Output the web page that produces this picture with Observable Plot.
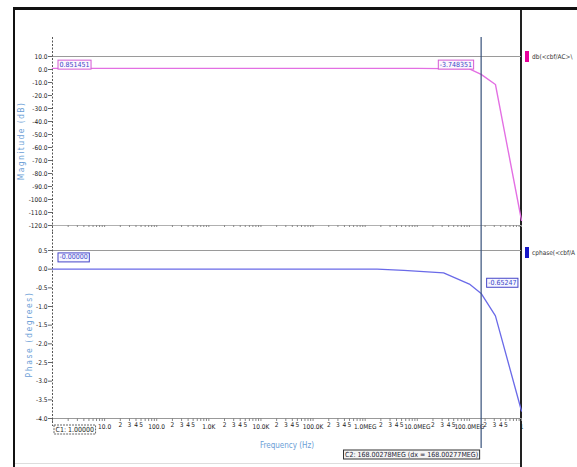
<!DOCTYPE html>
<html><head><meta charset="utf-8">
<script src="https://cdn.jsdelivr.net/npm/d3@7"></script>
<script src="https://cdn.jsdelivr.net/npm/@observablehq/plot@0.6"></script>
<style>
body{margin:0;background:#fff;}
#wrap{position:relative;width:577px;height:467px;overflow:hidden;background:#fff;font-family:"DejaVu Sans Condensed","DejaVu Sans",sans-serif;}
#wrap svg{position:absolute;left:0;overflow:visible;}
.bar{position:absolute;background:#111;}
.leg{position:absolute;white-space:nowrap;font-size:6.5px;color:#333;line-height:10px;}
.sw{position:absolute;width:4px;height:11px;}
</style>
</head><body>
<div id="wrap">
  <div class="bar" style="left:13px;top:7px;width:564px;height:3px;"></div>
  <div class="bar" style="left:13px;top:7px;width:2px;height:460px;"></div>
  <div class="bar" style="left:520px;top:10px;width:2px;height:457px;background:#222;"></div>
  <div style="position:absolute;left:15px;top:463px;width:505px;height:1px;background:#ddd;"></div>
  <div class="sw" style="left:525px;top:51px;background:#e8009c;"></div>
  <div class="leg" style="left:532px;top:52px;">db(&lt;cbf/AC&gt;\</div>
  <div class="sw" style="left:525px;top:247px;background:#1818c8;"></div>
  <div class="leg" style="left:532px;top:248px;">cphase(&lt;cbf/A</div>
</div>
<script>
// ---- data ----
const magFreq = [1, 1e6, 1e7, 1e8, 1.68e8, 3.16e8, 1e9];
const magDb   = [0.85, 0.85, 0.85, 0.5, -3.75, -11.5, -116];
const phFreq  = [1, 1.7e6, 5.5e6, 3.2e7, 1e8, 1.68e8, 3.16e8, 1e9];
const phDeg   = [0, 0, -0.03, -0.1, -0.4, -0.65, -1.25, -3.8];

const magTicks = [10, 0, -10, -20, -30, -40, -50, -60, -70, -80, -90, -100, -110, -120];
const magTickLabels = ["10.0","0.0","-10.0","-20.0","-30.0","-40.0","-50.0","-60.0","-70.0","-80.0","-90.0","-100.0","-110.0","-120.0"];
const phTicks = [0.5, 0, -0.5, -1, -1.5, -2, -2.5, -3, -3.5, -4];
const phTickLabels = ["0.5","0.0","-0.5","-1.0","-1.5","-2.0","-2.5","-3.0","-3.5","-4.0"];
const decadeFreq = [10, 100, 1e3, 1e4, 1e5, 1e6, 1e7, 1e8, 1e9];
const decadeLabels = ["10.0","100.0","1.0K","10.0K","100.0K","1.0MEG","10.0MEG","100.0MEG","1"];
const minorDecades = [10, 100, 1e3, 1e4, 1e5, 1e6, 1e7, 1e8];
const minorLabelMult = [2, 3, 4, 5];
const allDecades = [1, 10, 100, 1e3, 1e4, 1e5, 1e6, 1e7, 1e8];
const tickMult = [1, 2, 3, 4, 5, 6, 7, 8, 9];

const c1Freq = 1, c2Freq = 168.00278e6;
const c1MagText = "0.851451", c2MagText = "-3.748351";
const c1PhText = "-0.00000", c2PhText = "-0.65247";
const c1MagVal = 0.851451, c2MagVal = -3.748351, c1PhVal = 0, c2PhVal = -0.65247;
const c1Text = "C1: 1.00000";
const c2Text = "C2: 168.00278MEG (dx = 168.00277MEG)";

// ---- derived ----
const magData = magFreq.map((f, i) => ({f, v: magDb[i]}));
const phData = phFreq.map((f, i) => ({f, v: phDeg[i]}));
const magLabelMap = new Map(magTicks.map((t, i) => [t, magTickLabels[i]]));
const phLabelMap = new Map(phTicks.map((t, i) => [t, phTickLabels[i]]));
const decLabelMap = new Map(decadeFreq.map((t, i) => [t, decadeLabels[i]]));
const minorLabels = minorDecades.flatMap(d => minorLabelMult.map(m => ({f: d * m, t: String(m)})));
const minorTickFreq = allDecades.flatMap(d => tickMult.map(m => d * m)).concat([1e9]);

const font = "'DejaVu Sans Condensed','DejaVu Sans',sans-serif";
const titleColor = "#6a9ed6";
const magColor = "#e36fe3", phColor = "#6a6ae8";
const cursorColor = "#37507a";

const wrap = document.getElementById("wrap");

const topPlot = Plot.plot({
  width: 577, height: 232,
  marginLeft: 52, marginRight: 56, marginTop: 56, marginBottom: 7,
  style: {fontFamily: font, fontSize: "6.5px", color: "#1a1a1a", background: "transparent", overflow: "visible"},
  x: {type: "log", domain: [1, 1e9], label: null},
  y: {domain: [-120, 10], label: null},
  marks: [
    Plot.ruleY([10], {stroke: "#9a9a9a"}),
    Plot.ruleY([-120], {stroke: "#b0b0b0"}),
    Plot.axisX({ticks: minorTickFreq, tickFormat: () => "", tickSize: 2, stroke: "#888", label: null}),
    Plot.axisY({ticks: magTicks, tickFormat: d => magLabelMap.get(d), tickSize: 4, tickPadding: 1, stroke: "#666", label: null}),
    Plot.ruleX([c1Freq], {insetTop: -19, insetBottom: -7, stroke: "#555", strokeDasharray: "2,1.5"}),
    Plot.line(magData, {x: "f", y: "v", stroke: magColor, strokeWidth: 1.4}),
    Plot.ruleX([c2Freq], {insetTop: -19, insetBottom: -7, stroke: cursorColor, strokeWidth: 1.2}),
    Plot.text([c1MagText], {x: c1Freq, y: c1MagVal, text: d => d, dx: 7, dy: -4, textAnchor: "start", fill: "#3a46c8", fontSize: 7}),
    Plot.text([c2MagText], {x: c2Freq, y: c2MagVal, text: d => d, dx: -9, dy: -10, textAnchor: "end", fill: "#3a46c8", fontSize: 7}),
    Plot.text(["Magnitude (dB)"], {frameAnchor: "left", dx: -31, rotate: -90, textAnchor: "middle", fill: titleColor, fontSize: 8.5})
  ]
});
topPlot.style.top = "0px";
wrap.appendChild(topPlot);

const botPlot = Plot.plot({
  width: 577, height: 235,
  marginLeft: 52, marginRight: 56, marginTop: 18, marginBottom: 49,
  style: {fontFamily: font, fontSize: "6.5px", color: "#1a1a1a", background: "transparent", overflow: "visible"},
  x: {type: "log", domain: [1, 1e9], label: null},
  y: {domain: [-4, 0.5], label: null},
  marks: [
    Plot.ruleY([0.5], {stroke: "#9a9a9a"}),
    Plot.ruleY([-4], {stroke: "#999"}),
    Plot.axisX({ticks: minorTickFreq, tickFormat: () => "", tickSize: 3, stroke: "#888", label: null}),
    Plot.axisX({ticks: decadeFreq, tickFormat: d => decLabelMap.get(d), tickSize: 0, tickPadding: 6, label: null}),
    Plot.text(minorLabels, {x: "f", text: "t", frameAnchor: "bottom", lineAnchor: "middle", dy: 6, fontSize: 6.5, fill: "#1a1a1a"}),
    Plot.axisY({ticks: phTicks, tickFormat: d => phLabelMap.get(d), tickSize: 4, tickPadding: 1, stroke: "#666", label: null}),
    Plot.ruleX([c1Freq], {insetTop: -18, insetBottom: -8, stroke: "#555", strokeDasharray: "2,1.5"}),
    Plot.line(phData, {x: "f", y: "v", stroke: phColor, strokeWidth: 1.3}),
    Plot.ruleX([c2Freq], {insetTop: -18, insetBottom: -30, stroke: cursorColor, strokeWidth: 1.2}),
    Plot.text([c1PhText], {x: c1Freq, y: c1PhVal, text: d => d, dx: 7, dy: -12, textAnchor: "start", fill: "#3a46c8", fontSize: 7}),
    Plot.text([c2PhText], {x: c2Freq, y: c2PhVal, text: d => d, dx: 7, dy: -11, textAnchor: "start", fill: "#3a46c8", fontSize: 7}),
    Plot.text([c1Text], {x: c1Freq, frameAnchor: "bottom", text: d => d, dx: 3, dy: 13, textAnchor: "start", fill: "#222", fontSize: 7}),
    Plot.text([c2Text], {x: c2Freq, frameAnchor: "bottom", text: d => d, dx: -3, dy: 38, textAnchor: "end", fill: "#223", fontSize: 7}),
    Plot.text(["Phase (degrees)"], {frameAnchor: "left", dx: -23, rotate: -90, textAnchor: "middle", fill: titleColor, fontSize: 8.5}),
    Plot.text(["Frequency (Hz)"], {frameAnchor: "bottom", dy: 29, fill: titleColor, fontSize: 8})
  ]
});
botPlot.style.top = "232px";
wrap.appendChild(botPlot);

// letter-spacing for axis titles
[topPlot, botPlot].forEach(svg => svg.querySelectorAll("text").forEach(t => {
  const s = t.textContent;
  if (s === "Magnitude (dB)") t.setAttribute("letter-spacing", "1.4");
  if (s === "Phase (degrees)") t.setAttribute("letter-spacing", "1.6");
}));

// draw boxes behind cursor value labels
function box(svg, content, stroke, fill, dash) {
  svg.querySelectorAll("text").forEach(t => {
    if (t.textContent !== content) return;
    const b = t.getBBox();
    const r = document.createElementNS("http://www.w3.org/2000/svg", "rect");
    r.setAttribute("x", b.x - 1.5);
    r.setAttribute("y", b.y - 0.5);
    r.setAttribute("width", b.width + 3);
    r.setAttribute("height", b.height + 1);
    r.setAttribute("fill", fill);
    r.setAttribute("stroke", stroke);
    r.setAttribute("stroke-width", 1);
    if (dash) r.setAttribute("stroke-dasharray", dash);
    if (t.getAttribute("transform")) r.setAttribute("transform", t.getAttribute("transform"));
    t.parentNode.insertBefore(r, t);
  });
}
box(topPlot, c1MagText, "#d45ad4", "#fdf6fd");
box(topPlot, c2MagText, "#d45ad4", "#fdf6fd");
box(botPlot, c1PhText, "#4646c8", "#f6f6ff");
box(botPlot, c2PhText, "#4646c8", "#f6f6ff");
box(botPlot, c1Text, "#666", "#fff", "2,1");
box(botPlot, c2Text, "#333", "#f4f4f4");
</script>
</body></html>
